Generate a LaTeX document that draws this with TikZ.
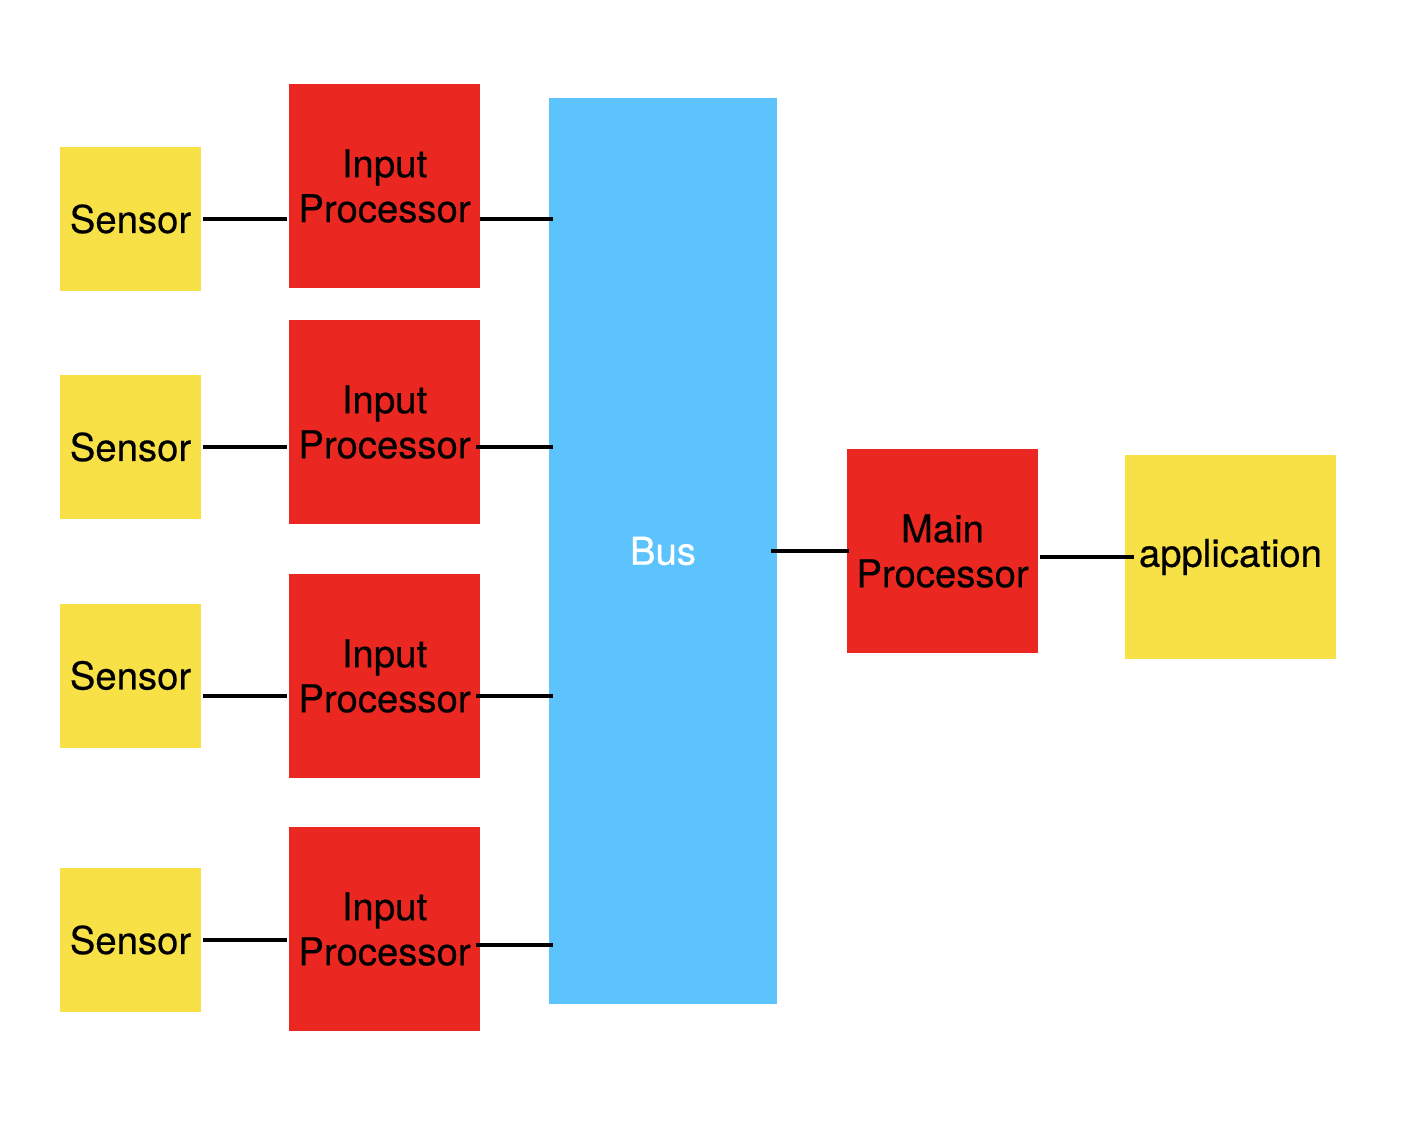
\documentclass[tikz,border=0pt]{standalone}
\usepackage{fontspec}
\setmainfont[FakeBold=0.4]{TeX Gyre Heros}
\usetikzlibrary{positioning}
\definecolor{sensoryellow}{HTML}{F8E047}
\definecolor{procred}{HTML}{EA2720}
\definecolor{busblue}{HTML}{5CC3FC}

\begin{document}
\begin{tikzpicture}[x=0.02cm, y=-0.02cm, align=center, font=\fontsize{21.8}{25.6}\selectfont]
    \tikzset{
        sensor/.style   =   { rectangle
                            , fill=sensoryellow
                            , inner sep=0pt
                            , minimum width=2.82cm
                            , minimum height=2.88cm
        }
        , proc/.style   =   { rectangle
                            , fill=procred
                            , inner sep=0pt
                            , minimum width=3.82cm
                            , minimum height=4.08cm
        }
        , bus/.style    =   { rectangle
                            , fill=busblue
                            , text=white
                            , inner sep=0pt
                            , minimum width=4.56cm
                            , minimum height=18.12cm
        }
        , wire/.style   =   { line width=2.1pt
                            , shorten >= 0.04cm
                            , shorten <= 0.04cm
        }
        , buswire/.style =  { line width=2.1pt
                            , shorten >= -0.08cm
                            , shorten <= -0.08cm
        }
    }
    \useasboundingbox (0,0) rectangle (1402,1130);

    \node(s1)[sensor] at (130.5,219)   {Sensor};
    \node(s2)[sensor] at (130.5,447)   {Sensor};
    \node(s3)[sensor] at (130.5,675.5) {Sensor};
    \node(s4)[sensor] at (130.5,940)   {Sensor};
    \node(p1)[proc] at (384.5,186) {Input\\Processor};
    \node(p2)[proc] at (384.5,422) {Input\\Processor};
    \node(p3)[proc] at (384.5,676) {Input\\Processor};
    \node(p4)[proc] at (384.5,929) {Input\\Processor};
    \node(bus)[bus] at (663,551) {Bus};
    \node(main)[proc] at (942.5,551) {Main\\Processor};
    \node(app)[sensor, minimum width=4.22cm, minimum height=4.08cm] at (1230.5,557) {application};

    \draw[wire] (s1.east) -- (s1.east -| p1.west);
    \draw[wire] (s2.east) -- (s2.east -| p2.west);
    \draw[wire] ([yshift=-0.41cm]s3.east) -- ([yshift=-0.41cm]s3.east -| p3.west);
    \draw[wire] (s4.east) -- (s4.east -| p4.west);

    \draw[buswire, shorten <= 0cm] (s1.east -| p1.east) -- (s1.east -| bus.west);
    \draw[buswire] (s2.east -| p2.east) -- (s2.east -| bus.west);
    \draw[buswire] ([yshift=-0.41cm]s3.east -| p3.east) -- ([yshift=-0.41cm]s3.east -| bus.west);
    \draw[buswire] ([yshift=-0.32cm]p4.east) -- ([yshift=-0.32cm]p4.east -| bus.west);

    \draw[wire, shorten <= -0.12cm, shorten >= -0.04cm] (bus.east) -- (main.west);
    \draw[wire, shorten >= -0.18cm] (app.west -| main.east) -- (app.west);
\end{tikzpicture}
\end{document}
